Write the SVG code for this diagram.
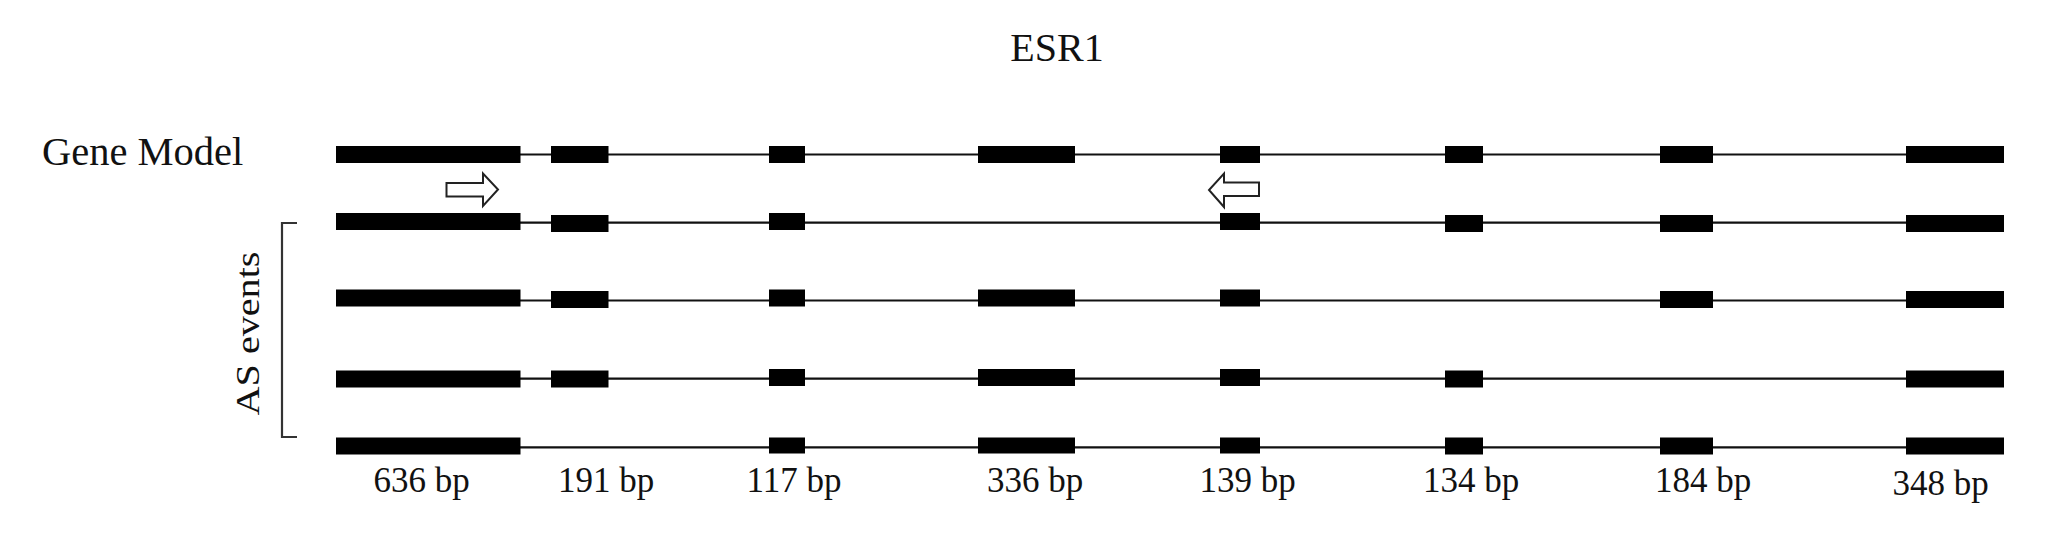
<svg xmlns="http://www.w3.org/2000/svg" width="2049" height="558" viewBox="0 0 2049 558">
<style>
.t{font-family:"Liberation Serif","Times New Roman",serif;fill:#111}
.intron{stroke:#111;stroke-width:2.2;fill:none}
.exon{fill:#000}
.arrow{fill:#fff;stroke:#222;stroke-width:2}
.bracket{fill:none;stroke:#333;stroke-width:2.2}
</style>
<rect width="2049" height="558" fill="#fff"/>
<g id="title"><text class="t" x="1057" y="61" font-size="40" text-anchor="middle">ESR1</text></g>
<g id="gene-model-label"><text class="t" x="42" y="165" font-size="40.5">Gene Model</text></g>
<g id="as-events-label">
<text class="t" transform="translate(259,333.5) rotate(-90)" font-size="34" text-anchor="middle" textLength="164" lengthAdjust="spacingAndGlyphs">AS events</text>
<path class="bracket" d="M297,223 H282 V437 H297"/>
</g>
<g id="connectors">
<line class="intron" x1="336" y1="154.5" x2="2004" y2="154.5"/>
<line class="intron" x1="336" y1="222.7" x2="2004" y2="222.7"/>
<line class="intron" x1="336" y1="300.5" x2="2004" y2="300.5"/>
<line class="intron" x1="336" y1="378.7" x2="2004" y2="378.7"/>
<line class="intron" x1="336" y1="447.3" x2="2004" y2="447.3"/>
</g>
<g id="row-gene-model">
<rect class="exon" x="336" y="146" width="184.5" height="17"/>
<rect class="exon" x="551" y="146" width="57.5" height="17"/>
<rect class="exon" x="769" y="146" width="36" height="17"/>
<rect class="exon" x="978" y="146" width="97" height="17"/>
<rect class="exon" x="1220" y="146" width="40" height="17"/>
<rect class="exon" x="1445" y="146" width="38" height="17"/>
<rect class="exon" x="1660" y="146" width="53" height="17"/>
<rect class="exon" x="1906" y="146" width="98" height="17"/>
</g>
<g id="arrows">
<path class="arrow" d="M446.5,183 H483 V173.5 L498,189.5 L483,206 V196.5 H446.5 Z"/>
<path class="arrow" d="M1259,182.5 H1224 V173.5 L1209,190 L1224,207 V196 H1259 Z"/>
</g>
<g id="row-as1">
<rect class="exon" x="336" y="213" width="184.5" height="17"/>
<rect class="exon" x="551" y="215" width="57.5" height="17"/>
<rect class="exon" x="769" y="213" width="36" height="17"/>
<rect class="exon" x="1220" y="213" width="40" height="17"/>
<rect class="exon" x="1445" y="215" width="38" height="17"/>
<rect class="exon" x="1660" y="215" width="53" height="17"/>
<rect class="exon" x="1906" y="215" width="98" height="17"/>
</g>
<g id="row-as2">
<rect class="exon" x="336" y="289.5" width="184.5" height="17"/>
<rect class="exon" x="551" y="291" width="57.5" height="17"/>
<rect class="exon" x="769" y="289.5" width="36" height="17"/>
<rect class="exon" x="978" y="289.5" width="97" height="17"/>
<rect class="exon" x="1220" y="289.5" width="40" height="17"/>
<rect class="exon" x="1660" y="291" width="53" height="17"/>
<rect class="exon" x="1906" y="291" width="98" height="17"/>
</g>
<g id="row-as3">
<rect class="exon" x="336" y="370.5" width="184.5" height="17"/>
<rect class="exon" x="551" y="370.5" width="57.5" height="17"/>
<rect class="exon" x="769" y="369" width="36" height="17"/>
<rect class="exon" x="978" y="369" width="97" height="17"/>
<rect class="exon" x="1220" y="369" width="40" height="17"/>
<rect class="exon" x="1445" y="370.5" width="38" height="17"/>
<rect class="exon" x="1906" y="370.5" width="98" height="17"/>
</g>
<g id="row-as4">
<rect class="exon" x="336" y="437.5" width="184.5" height="17"/>
<rect class="exon" x="769" y="437.5" width="36" height="16"/>
<rect class="exon" x="978" y="437.5" width="97" height="16"/>
<rect class="exon" x="1220" y="437.5" width="40" height="16"/>
<rect class="exon" x="1445" y="437.5" width="38" height="17"/>
<rect class="exon" x="1660" y="437.5" width="53" height="17"/>
<rect class="exon" x="1906" y="437.5" width="98" height="17"/>
</g>
<g id="exon-sizes" class="t" font-size="35" text-anchor="middle">
<text x="421.5" y="492">636 bp</text>
<text x="606" y="492">191 bp</text>
<text x="794" y="492">117 bp</text>
<text x="1035" y="492">336 bp</text>
<text x="1247.5" y="492">139 bp</text>
<text x="1471" y="492">134 bp</text>
<text x="1703" y="492">184 bp</text>
<text x="1940.5" y="495">348 bp</text>
</g>
</svg>
